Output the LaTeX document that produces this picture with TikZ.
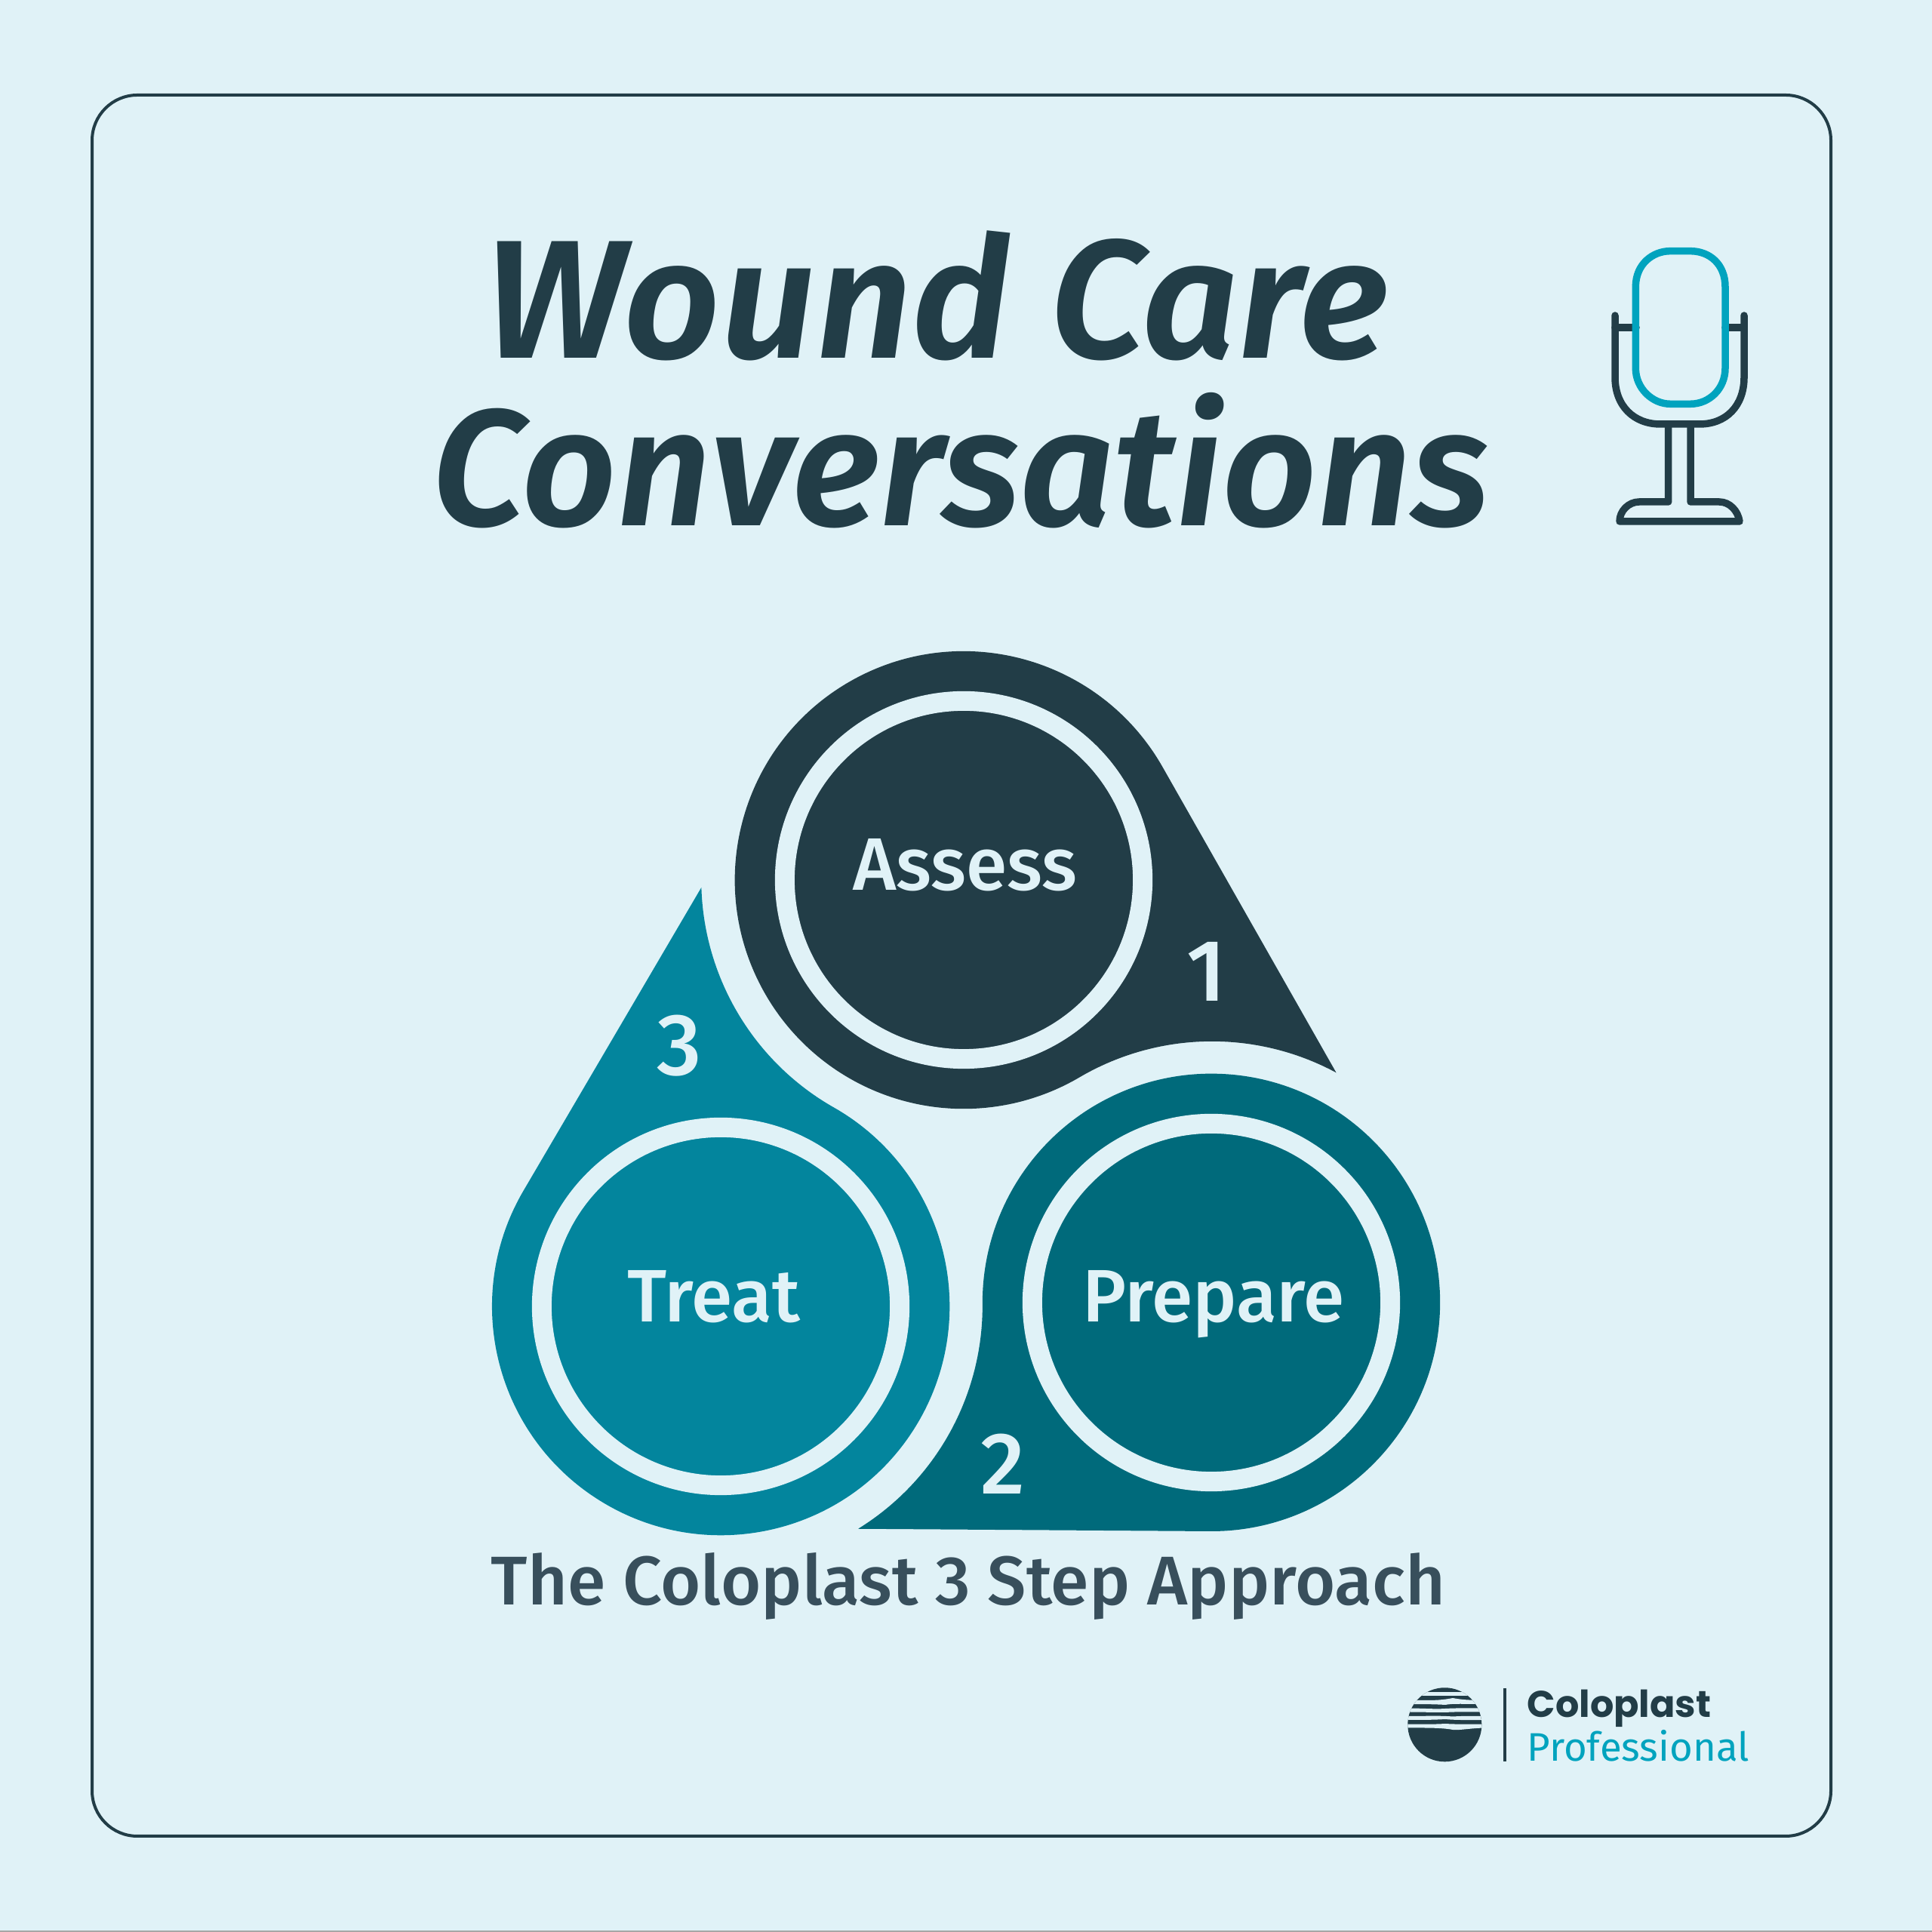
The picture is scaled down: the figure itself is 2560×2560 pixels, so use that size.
\documentclass[tikz,border=0pt]{standalone}
\usepackage{fontspec}
\usetikzlibrary{calc}
\setmainfont{Fira Sans}
\newfontfamily\logofont{Poppins}
\newfontfamily\medf{Fira Sans Medium}
\newfontfamily\ttlf{Fira Sans SemiBold Italic}
\definecolor{bgc}{HTML}{E0F2F7}
\definecolor{darkc}{HTML}{223D47}
\definecolor{prepc}{HTML}{006A7B}
\definecolor{treatc}{HTML}{03859D}
\definecolor{tealc}{HTML}{00A3BE}
\definecolor{capc}{HTML}{384F5C}
\tikzset{
  ringline/.style={draw=bgc,line width=0.26cm},
  lbl/.style={anchor=base,text=bgc,font=\medf\fontsize{28}{30}\selectfont,inner sep=0},
  num/.style={anchor=base,text=bgc,font=\medf\fontsize{33}{36}\selectfont,inner sep=0},
  ttl/.style={anchor=base,text=darkc,inner sep=0},
  micd/.style={draw=darkc,line width=0.095cm,line cap=round,line join=round},
  mict/.style={draw=tealc,line width=0.095cm},
}
\begin{document}
\begin{tikzpicture}[x=0.01cm,y=0.01cm]
\useasboundingbox (0,0) rectangle (2560,2560);
\fill[bgc] (0,0) rectangle (2560,2560);
\fill[black!35] (0,0) rectangle (2560,2);
\draw[darkc,line width=0.04cm,rounded corners=0.6cm] (122,127) rectangle (2426,2434);
% title
\node[ttl,font=\ttlf\fontsize{63.5}{70}\selectfont] (t1) at (1241,2085) {Wound Care};
\node[ttl,font=\ttlf\fontsize{62.4}{70}\selectfont] (t2) at (1273,1863) {Conversations};
% shapes
\coordinate (A) at (1277,1394);
\coordinate (P) at (1605,834);
\coordinate (T) at (955,829);
\fill[darkc] ($(A)+(29.6:303)$) arc[start angle=29.6,end angle=300.4,radius=3.03cm] arc[start angle=120.4,end angle=61.7,radius=3.47cm] -- cycle;
\fill[prepc] ($(P)+(-90.4:303)$) arc[start angle=-90.4,end angle=180.4,radius=3.03cm] arc[start angle=0.4,end angle=-58.3,radius=3.47cm] -- cycle;
\fill[treatc] ($(T)+(149.6:303)$) arc[start angle=149.6,end angle=420.4,radius=3.03cm] arc[start angle=-119.6,end angle=-178.3,radius=3.47cm] -- cycle;
\draw[ringline] (A) circle[radius=2.37cm];
\draw[ringline] (P) circle[radius=2.37cm];
\draw[ringline] (T) circle[radius=2.37cm];
\node[lbl] (assess) at (1279,1380) {Assess};
\node[lbl] (prepare) at (1608,808) {Prepare};
\node[lbl] (treat) at (946,808) {Treat};
\node[num] (n1) at (1599,1233) {1};
\node[num] (n2) at (1329,580) {2};
\node[num] (n3) at (900,1135) {3};
\node[anchor=base,text=capc,inner sep=0,font=\medf\fontsize{26}{30}\selectfont] (cap) at (1283,433) {The Coloplast 3 Step Approach};
% microphone and logo: coordinates measured from the top
\begin{scope}[cm={1,0,0,-1,(0,2560)}]
  \draw[micd] (2140,418) -- (2140,500) .. controls (2140,538) and (2165,562) .. (2200,562) -- (2252,562) .. controls (2287,562) and (2311,538) .. (2311,500) -- (2311,418);
  \draw[micd] (2140,434) -- (2168,434) (2286,434) -- (2311,434);
  \draw[micd] (2210.7,562) -- (2210.7,665) -- (2172,665) .. controls (2158,665) and (2146,677) .. (2146,691) -- (2305,691) .. controls (2303,677) and (2292,665) .. (2278,665) -- (2240,665) -- (2240,562);
  \draw[mict] (2167.3,380) .. controls (2167.3,350) and (2190,332.7) .. (2213,332.7) -- (2240,332.7) .. controls (2265,332.7) and (2286,350) .. (2286,380) -- (2286,488) .. controls (2286,515) and (2265,535.3) .. (2240,535.3) -- (2213,535.3) .. controls (2190,535.3) and (2167.3,515) .. (2167.3,488) -- cycle;
  \begin{scope}
    \clip (1914.3,2285.3) circle[radius=0.49cm];
    \fill[darkc] (1860,2230) rectangle (1970,2340);
    \fill[bgc] (1860,2242.5) rectangle (1970,2247.5);
    \fill[bgc] (1860,2252.5) .. controls (1890,2253) and (1905,2254) .. (1925,2250) .. controls (1940,2253) and (1955,2253) .. (1970,2252.5) -- (1970,2258) .. controls (1940,2258) and (1925,2257) .. (1915,2259) .. controls (1900,2258) and (1880,2258) .. (1860,2258) -- cycle;
    \fill[bgc] (1860,2263.5) .. controls (1890,2263.5) and (1900,2265) .. (1915,2264) .. controls (1935,2263) and (1950,2263.5) .. (1970,2263.5) -- (1970,2268.5) .. controls (1950,2268.5) and (1930,2268) .. (1915,2269) .. controls (1900,2269) and (1880,2268.5) .. (1860,2268.5) -- cycle;
    \fill[bgc] (1860,2274) .. controls (1890,2274) and (1905,2273) .. (1925,2274.5) .. controls (1940,2273.5) and (1955,2274) .. (1970,2274) -- (1970,2279) .. controls (1950,2279) and (1930,2279.5) .. (1915,2278) .. controls (1900,2279) and (1880,2279) .. (1860,2279) -- cycle;
    \fill[bgc] (1860,2284.5) .. controls (1885,2284.5) and (1900,2285) .. (1915,2284) .. controls (1930,2285) and (1950,2284.5) .. (1970,2284.5) -- (1970,2289.5) .. controls (1950,2289.5) and (1935,2293) .. (1925,2292) .. controls (1910,2289) and (1885,2289.5) .. (1860,2289.5) -- cycle;
  \end{scope}
  \draw[darkc,line width=0.045cm] (1994,2237) -- (1994,2334);
\end{scope}
\node[anchor=base west,inner sep=0,text=darkc,font=\logofont\fontsize{14}{18}\selectfont\bfseries] (colo) at (2023,284) {Coloplast};
\node[anchor=base west,inner sep=0,text=tealc,font=\fontsize{15}{18}\selectfont] (prof) at (2023,226) {Professional};
\end{tikzpicture}
\end{document}
